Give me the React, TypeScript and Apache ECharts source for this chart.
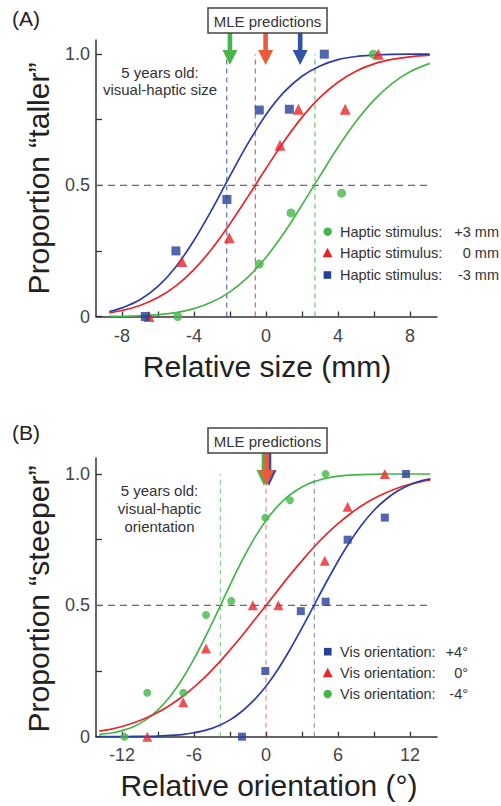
import React, { useEffect, useRef } from 'react';
import * as echarts from 'echarts';

// ---------- Panel A: visual-haptic size ----------
const sizeTicks = [-8, -6, -4, -2, 0, 2, 4, 6, 8];
const sizeTickLabels = [-8, -4, 0, 4, 8];
const propTicks = [0, 0.25, 0.5, 0.75, 1];
const propTickLabels = [0, 0.5, 1];

// fitted psychometric curves
const sizeCurveX = [-8.7, -8, -7, -6, -5, -4, -3, -2, -1, 0, 1, 2, 3, 4, 5, 6, 7, 8, 9.1];
const sizeFitPlus3 = [0.001, 0.001, 0.003, 0.007, 0.015, 0.03, 0.055, 0.094, 0.15, 0.225, 0.318, 0.425, 0.536, 0.645, 0.743, 0.825, 0.888, 0.933, 0.965];
const sizeFit0 = [0.014, 0.023, 0.042, 0.072, 0.117, 0.179, 0.258, 0.353, 0.457, 0.564, 0.667, 0.759, 0.835, 0.893, 0.935, 0.963, 0.98, 0.99, 0.996];
const sizeFitMinus3 = [0.019, 0.033, 0.064, 0.115, 0.19, 0.29, 0.408, 0.536, 0.66, 0.769, 0.855, 0.916, 0.955, 0.979, 0.991, 0.996, 0.999, 1.0, 1.0];

// data points
const sizePlus3X = [-4.9, -0.37, 1.39, 4.2, 5.96];
const sizePlus3Y = [0, 0.2, 0.395, 0.47, 1.0];
const size0X = [-6.5, -4.67, -2.04, 0.78, 1.8, 4.4, 6.24];
const size0Y = [0, 0.21, 0.3, 0.653, 0.79, 0.79, 1.0];
const sizeMinus3X = [-6.7, -5.0, -2.17, -0.37, 1.3, 3.24];
const sizeMinus3Y = [0, 0.25, 0.446, 0.787, 0.79, 1.0];

// PSEs (dashed lines) and MLE predictions (arrows): [green, red, blue]
const sizePSE = [2.72, -0.59, -2.18];
const sizeMLE = [-2.0, -0.02, 1.9];

// ---------- Panel B: visual-haptic orientation ----------
const oriTicks = [-12, -9, -6, -3, 0, 3, 6, 9, 12];
const oriTickLabels = [-12, -6, 0, 6, 12];

const oriCurveX = [-13.9, -13, -12, -11, -10, -9, -8, -7, -6, -5, -4, -3, -2, -1, 0, 1, 2, 3, 4, 5, 6, 7, 8, 9, 10, 11, 12, 13, 13.7];
const oriFitMinus4 = [0.009, 0.013, 0.023, 0.039, 0.065, 0.102, 0.153, 0.218, 0.296, 0.385, 0.48, 0.577, 0.67, 0.753, 0.823, 0.879, 0.921, 0.951, 0.971, 0.984, 0.992, 0.996, 0.998, 0.999, 1, 1, 1, 1, 1];
const oriFit0 = [0.021, 0.028, 0.039, 0.053, 0.071, 0.093, 0.12, 0.152, 0.189, 0.231, 0.278, 0.33, 0.384, 0.442, 0.5, 0.558, 0.616, 0.67, 0.722, 0.769, 0.811, 0.848, 0.88, 0.907, 0.929, 0.947, 0.961, 0.972, 0.978];
const oriFitPlus4 = [0, 0, 0, 0.001, 0.001, 0.002, 0.005, 0.008, 0.015, 0.025, 0.041, 0.064, 0.097, 0.139, 0.192, 0.257, 0.332, 0.414, 0.5, 0.586, 0.668, 0.743, 0.808, 0.862, 0.904, 0.936, 0.959, 0.975, 0.982];

const oriMinus4X = [-11.8, -9.9, -6.9, -5.0, -2.9, -0.06, 2.0, 4.97];
const oriMinus4Y = [0, 0.167, 0.167, 0.463, 0.517, 0.834, 0.9, 1.0];
const ori0X = [-9.9, -6.9, -5.0, -1.1, 1.03, 4.9, 6.8, 9.9];
const ori0Y = [0, 0.131, 0.336, 0.5, 0.5, 0.67, 0.875, 1.0];
const oriPlus4X = [-2.0, -0.06, 2.9, 4.97, 6.8, 9.9, 11.67];
const oriPlus4Y = [0, 0.25, 0.478, 0.514, 0.75, 0.834, 1.0];

const oriPSE = [-3.8, 0, 4.03];
const oriMLE = [-0.17, 0.05, 0.25];

const legendA = ['Haptic stimulus:', 'Haptic stimulus:', 'Haptic stimulus:'];
const legendAValues = ['+3 mm', '0 mm', '-3 mm'];
const legendB = ['Vis orientation:', 'Vis orientation:', 'Vis orientation:'];
const legendBValues = ['+4°', '0°', '-4°'];

const FONT = "'Liberation Sans', Arial, Helvetica, sans-serif";
const GREEN = '#45b649';
const RED = '#e8262a';
const BLUE = '#26409a';
const GREEN_A = '#48b54c';
const RED_A = '#ec5a3c';
const BLUE_A = '#3452a8';

const zip = (xs: number[], ys: number[]) => xs.map((x, i) => [x, ys[i]]);

function xAxisCfg(grid: number, min: number, max: number, ticks: number[], labels: number[], margin: number) {
  return {
    gridIndex: grid, type: 'value', min, max,
    axisLine: { onZero: false, lineStyle: { color: '#333', width: 1.5 } },
    axisTick: { inside: true, length: 5, customValues: ticks, lineStyle: { color: '#333', width: 1.3 } },
    axisLabel: { customValues: labels, margin, fontSize: 18, color: '#444', fontFamily: FONT },
    splitLine: { show: false },
  };
}
function yAxisCfg(grid: number, max: number) {
  return {
    gridIndex: grid, type: 'value', min: 0, max,
    axisLine: { show: true, onZero: false, lineStyle: { color: '#333', width: 1.5 } },
    axisTick: { show: true, inside: true, length: 6, customValues: propTicks, lineStyle: { color: '#333', width: 1.3 } },
    axisLabel: {
      customValues: propTickLabels, margin: 6, fontSize: 18, color: '#444', fontFamily: FONT,
      formatter: (v: number) => (v === 0 ? '0' : v.toFixed(1)),
    },
    splitLine: { show: false },
  };
}

function curve(ax: number, xs: number[], ys: number[], color: string) {
  return {
    type: 'line', xAxisIndex: ax, yAxisIndex: ax, data: zip(xs, ys), showSymbol: false, symbol: 'none',
    smooth: 0.35, lineStyle: { color, width: 1.7 }, z: 3, silent: true,
  };
}
function dashV(ax: number, x: number, color: string) {
  return {
    type: 'line', xAxisIndex: ax, yAxisIndex: ax, data: [[x, 0], [x, 1]], symbol: 'none',
    lineStyle: { color, width: 1.3, type: [5, 4] }, z: 2, silent: true,
  };
}
function dashH(ax: number, x0: number, x1: number) {
  return {
    type: 'line', xAxisIndex: ax, yAxisIndex: ax, data: [[x0, 0.5], [x1, 0.5]], symbol: 'none',
    lineStyle: { color: '#6a6a6a', width: 1.2, type: [7, 5] }, z: 2, silent: true,
  };
}
function pts(ax: number, xs: number[], ys: number[], symbol: string, size: number, color: string) {
  return {
    type: 'scatter', xAxisIndex: ax, yAxisIndex: ax, data: zip(xs, ys), symbol, symbolSize: size,
    itemStyle: { color }, z: 5, clip: false, silent: true,
  };
}

function arrow(cx: number, yTop: number, yHead: number, yTip: number, color: string) {
  return {
    type: 'polygon', z: 20,
    shape: { points: [[cx - 2.3, yTop], [cx + 2.3, yTop], [cx + 2.3, yHead], [cx + 7.5, yHead], [cx, yTip], [cx - 7.5, yHead], [cx - 2.3, yHead]] },
    style: { fill: color },
  };
}
function txt(x: number, y: number, text: string, size: number, fill: string, align = 'center', rotation = 0) {
  return {
    type: 'text', x, y, rotation, z: 30,
    style: { text, fontSize: size, fontFamily: FONT, fill, textAlign: align, textVerticalAlign: 'middle' },
  };
}

export default function App() {
  const ref = useRef<HTMLDivElement>(null);
  useEffect(() => {
    const chart = echarts.init(ref.current!, null, { renderer: 'svg' });
    const option: any = {
      animation: false,
      backgroundColor: '#fff',
      grid: [
        { left: 96, top: 40, width: 341, height: 276.5 },
        { left: 96, top: 458, width: 341, height: 278.7 },
      ],
      xAxis: [
        xAxisCfg(0, -9.44, 9.5, sizeTicks, sizeTickLabels, 10),
        xAxisCfg(1, -14.17, 14.25, oriTicks, oriTickLabels, 9),
      ],
      yAxis: [yAxisCfg(0, 1.054), yAxisCfg(1, 1.061)],
      series: [
        dashH(0, -9.44, 9.1),
        dashV(0, sizePSE[0], 'rgba(69,182,73,0.75)'),
        dashV(0, sizePSE[1], 'rgba(232,38,42,0.7)'),
        dashV(0, sizePSE[2], 'rgba(38,64,154,0.7)'),
        curve(0, sizeCurveX, sizeFitPlus3, GREEN),
        curve(0, sizeCurveX, sizeFit0, RED),
        curve(0, sizeCurveX, sizeFitMinus3, '#2c3ea3'),
        pts(0, sizePlus3X, sizePlus3Y, 'circle', 9, GREEN),
        pts(0, size0X, size0Y, 'triangle', 11, RED),
        pts(0, sizeMinus3X, sizeMinus3Y, 'rect', 9, BLUE),

        dashH(1, -14.17, 13.8),
        dashV(1, oriPSE[0], 'rgba(69,182,73,0.6)'),
        dashV(1, oriPSE[1], 'rgba(232,38,42,0.5)'),
        dashV(1, oriPSE[2], 'rgba(38,64,154,0.5)'),
        curve(1, oriCurveX, oriFitMinus4, GREEN),
        curve(1, oriCurveX, oriFit0, RED),
        curve(1, oriCurveX, oriFitPlus4, '#2c3ea3'),
        pts(1, oriMinus4X, oriMinus4Y, 'circle', 8, GREEN),
        pts(1, ori0X, ori0Y, 'triangle', 10, RED),
        pts(1, oriPlus4X, oriPlus4Y, 'rect', 8, BLUE),
      ],
    };
    chart.setOption(option);

    const px = (g: number, x: number) => (chart.convertToPixel({ gridIndex: g } as any, [x, 0]) as number[])[0];
    const arrowColors = [GREEN_A, RED_A, BLUE_A];

    const g: any[] = [];
    g.push(txt(12, 18, '(A)', 21, '#222', 'left'));
    g.push(txt(12, 432, '(B)', 21, '#222', 'left'));
    g.push({ type: 'rect', z: 25, shape: { x: 208, y: 8, width: 119, height: 25 }, style: { fill: '#fff', stroke: '#444', lineWidth: 1.5 } });
    g.push(txt(267.5, 21, 'MLE predictions', 15, '#333'));
    g.push({ type: 'rect', z: 25, shape: { x: 208, y: 428, width: 119, height: 25 }, style: { fill: '#fff', stroke: '#444', lineWidth: 1.5 } });
    g.push(txt(267.5, 441, 'MLE predictions', 15, '#333'));
    sizeMLE.forEach((v, i) => g.push(arrow(px(0, v), 33, 50, 65, arrowColors[i])));
    [2, 0, 1].forEach((i) => g.push(arrow(px(1, oriMLE[i]), 453, 470, 486, arrowColors[i])));
    g.push(txt(38, 178.5, 'Proportion “taller”', 30, '#222', 'center', Math.PI / 2));
    g.push(txt(38, 599, 'Proportion “steeper”', 30, '#222', 'center', Math.PI / 2));
    g.push(txt(267, 366, 'Relative size (mm)', 30, '#222'));
    g.push(txt(269, 785, 'Relative orientation (°)', 30, '#222'));
    g.push(txt(160, 72, '5 years old:', 15, '#333'));
    g.push(txt(160, 89.5, 'visual-haptic size', 15, '#333'));
    g.push(txt(159.5, 490, '5 years old:', 15, '#333'));
    g.push(txt(159.5, 508.3, 'visual-haptic', 15, '#333'));
    g.push(txt(159.5, 526.7, 'orientation', 15, '#333'));
    const rowsA = [231.7, 252.7, 275];
    g.push({ type: 'circle', z: 30, shape: { cx: 327.7, cy: rowsA[0], r: 4.2 }, style: { fill: GREEN } });
    g.push({ type: 'polygon', z: 30, shape: { points: [[322.5, rowsA[1] + 4.5], [332.5, rowsA[1] + 4.5], [327.5, rowsA[1] - 5]] }, style: { fill: RED } });
    g.push({ type: 'rect', z: 30, shape: { x: 323.6, y: rowsA[2] - 3.8, width: 7.6, height: 7.6 }, style: { fill: BLUE } });
    rowsA.forEach((y, i) => {
      g.push(txt(340, y, legendA[i], 14.5, '#333', 'left'));
      g.push(txt(499, y, legendAValues[i], 14.5, '#333', 'right'));
    });
    const rowsB = [651.7, 672.7, 694];
    g.push({ type: 'rect', z: 30, shape: { x: 324, y: rowsB[0] - 3.8, width: 7.6, height: 7.6 }, style: { fill: BLUE } });
    g.push({ type: 'polygon', z: 30, shape: { points: [[322.7, rowsB[1] + 4.5], [332.7, rowsB[1] + 4.5], [327.7, rowsB[1] - 5]] }, style: { fill: RED } });
    g.push({ type: 'circle', z: 30, shape: { cx: 327.7, cy: rowsB[2], r: 4.2 }, style: { fill: GREEN } });
    rowsB.forEach((y, i) => {
      g.push(txt(340, y, legendB[i], 14.5, '#333', 'left'));
      g.push(txt(468, y, legendBValues[i], 14.5, '#333', 'right'));
    });

    chart.setOption({ graphic: g });
    return () => chart.dispose();
  }, []);
  return <div ref={ref} style={{ position: 'absolute', left: 0, top: 0, width: 501, height: 806 }} />;
}
